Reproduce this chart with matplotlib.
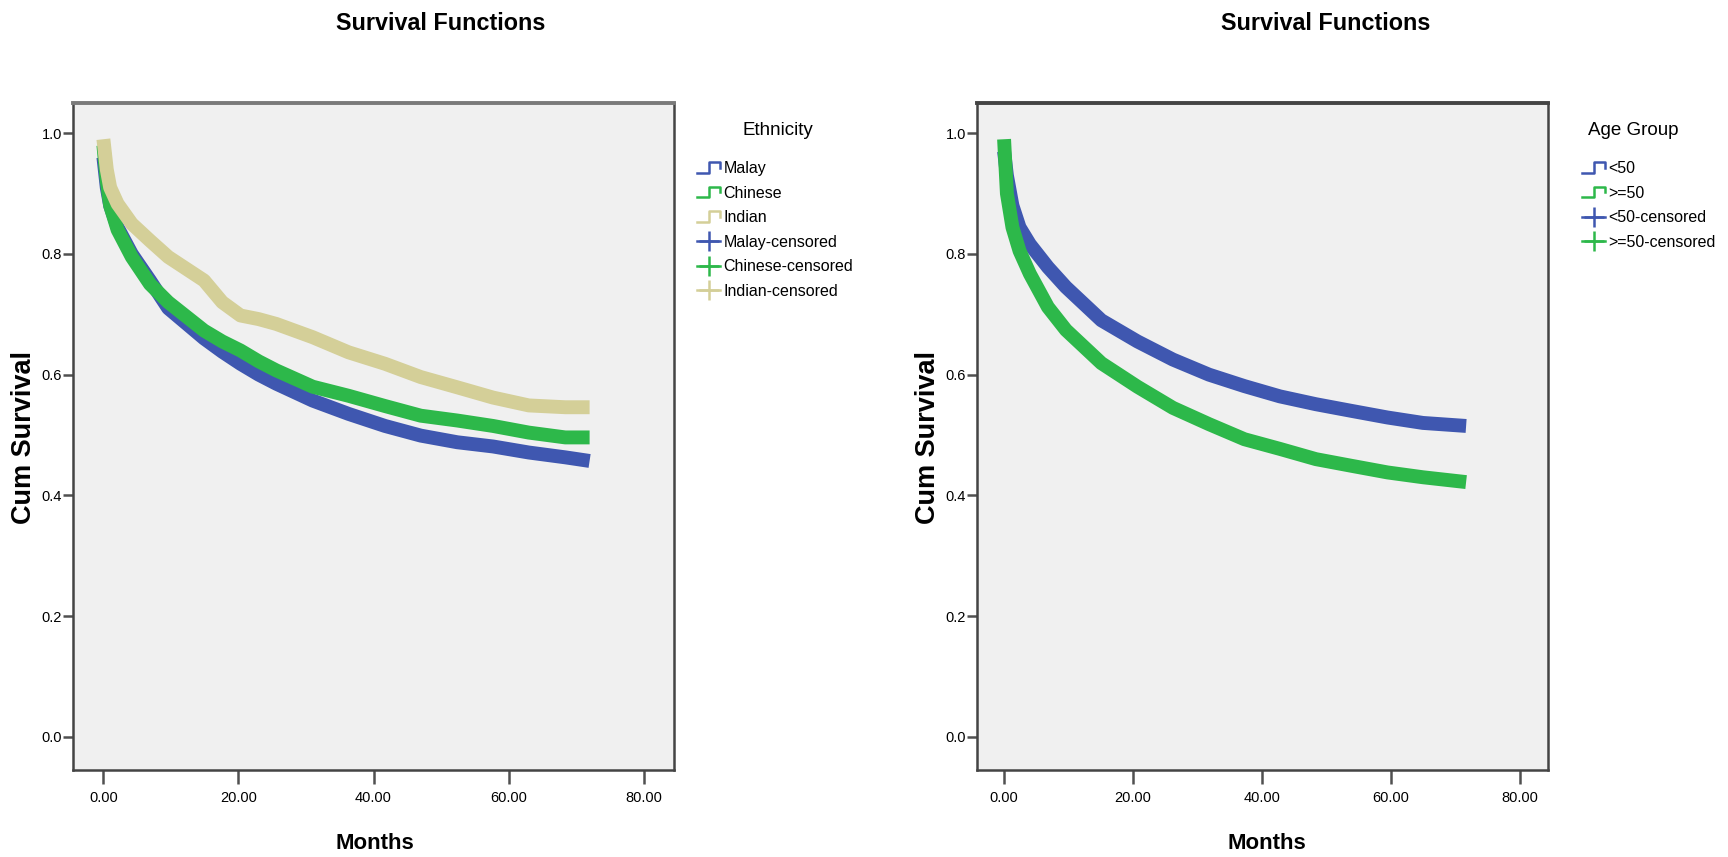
import matplotlib
matplotlib.use('Agg')
import matplotlib.pyplot as plt
from matplotlib.lines import Line2D
from matplotlib.legend_handler import HandlerLine2D

plt.rcParams['font.family'] = ['Liberation Sans', 'DejaVu Sans']

# Curvas (meses, supervivencia acumulada)
meses_etnia = [0, 0.5, 1, 2.1, 4.2, 6.9, 9.6, 14.9, 17.6, 20.3, 23, 25.6, 31, 36.3, 41.7, 47, 52.4, 57.7, 63, 68.4, 72]
malay = [0.96, 0.91, 0.88, 0.844, 0.80, 0.756, 0.71, 0.66, 0.638, 0.618, 0.60, 0.585, 0.557, 0.535, 0.515, 0.499, 0.488, 0.481, 0.471, 0.463, 0.457]
chinese = [0.98, 0.92, 0.88, 0.84, 0.795, 0.75, 0.72, 0.673, 0.655, 0.64, 0.622, 0.607, 0.58, 0.565, 0.548, 0.532, 0.524, 0.515, 0.504, 0.496, 0.496]
indian = [0.99, 0.94, 0.91, 0.883, 0.85, 0.822, 0.795, 0.756, 0.72, 0.698, 0.692, 0.684, 0.662, 0.637, 0.618, 0.596, 0.579, 0.562, 0.549, 0.546, 0.546]

meses_edad = [0, 0.44, 1.3, 2.4, 4, 6.8, 9.6, 15.1, 20.7, 26.2, 31.8, 37.3, 42.8, 48.4, 53.9, 59.5, 65, 71.7]
menor_50 = [0.97, 0.93, 0.88, 0.844, 0.816, 0.778, 0.745, 0.69, 0.655, 0.625, 0.60, 0.581, 0.564, 0.551, 0.54, 0.529, 0.52, 0.515]
mayor_50 = [0.99, 0.90, 0.844, 0.805, 0.767, 0.712, 0.674, 0.619, 0.58, 0.545, 0.518, 0.493, 0.477, 0.46, 0.449, 0.438, 0.43, 0.422]

etiquetas_etnia = ['Malay', 'Chinese', 'Indian']
etiquetas_edad = ['<50', '>=50']

ticks_x = [0, 20, 40, 60, 80]
ticks_y = [0, 0.2, 0.4, 0.6, 0.8, 1.0]

azul = '#3f57b0'
verde = '#2db84a'
beige = '#d4cf98'


class HandlerEscalon(HandlerLine2D):
    # dibuja el simbolo de escalon de SPSS en la leyenda
    def create_artists(self, legend, orig_handle, xdescent, ydescent, width, height, fontsize, trans):
        x0 = -xdescent
        y0 = -ydescent
        xs = [x0, x0 + width * 0.5, x0 + width * 0.5, x0 + width, x0 + width]
        ys = [y0 + height * 0.05, y0 + height * 0.05, y0 + height * 1.0, y0 + height * 1.0, y0 + height * 0.5]
        linea = Line2D(xs, ys, color=orig_handle.get_color(), lw=1.8, transform=trans)
        return [linea]


def estilo_ejes(ax, xlim, color_arriba):
    ax.set_facecolor('#f0f0f0')
    ax.set_xlim(*xlim)
    ax.set_ylim(-0.055, 1.05)
    ax.set_xticks(ticks_x)
    ax.set_xticklabels(['%.2f' % v for v in ticks_x], fontsize=10.5)
    ax.set_yticks(ticks_y)
    ax.set_yticklabels(['%.1f' % v for v in ticks_y], fontsize=10.5)
    ax.tick_params(axis='y', length=7, width=1.8, color='#505050', pad=1)
    ax.tick_params(axis='x', length=10, width=1.8, color='#505050', pad=5)
    for lado in ['left', 'right', 'bottom']:
        ax.spines[lado].set_color('#444444')
        ax.spines[lado].set_linewidth(1.8)
    ax.spines['top'].set_color(color_arriba)
    ax.spines['top'].set_linewidth(2.8)


def leyenda(fig, titulo, etiquetas, colores, x, y, x_titulo):
    handles = []
    mapa = {}
    for c in colores:
        h = Line2D([], [], color=c, lw=1.8)
        handles.append(h)
        mapa[h] = HandlerEscalon()
    for c in colores:
        handles.append(Line2D([], [], color=c, lw=1.8, marker='+', markersize=15, mew=1.8))
    nombres = list(etiquetas) + [e + '-censored' for e in etiquetas]
    fig.legend(handles, nombres, loc='upper left', bbox_to_anchor=(x, y),
               frameon=False, fontsize=11.5, handlelength=1.45,
               handletextpad=0.2, labelspacing=0.6, borderpad=0, borderaxespad=0,
               handler_map=mapa)
    fig.text(x_titulo, 0.848, titulo, ha='center', va='center', fontsize=13.5)


fig = plt.figure(figsize=(17.28, 8.57), dpi=100)

# Panel izquierdo: etnia
ax1 = fig.add_axes([0.04225, 0.1015, 0.3478, 0.7783])
ax1.plot(meses_etnia, malay, color=azul, lw=10, solid_capstyle='butt')
ax1.plot(meses_etnia, chinese, color=verde, lw=10, solid_capstyle='butt')
ax1.plot(meses_etnia, indian, color=beige, lw=10, solid_capstyle='butt')
estilo_ejes(ax1, (-4.5, 84.5), '#7a7a7a')

# Panel derecho: grupo de edad
ax2 = fig.add_axes([0.5654, 0.1015, 0.3304, 0.7783])
ax2.plot(meses_edad, menor_50, color=azul, lw=10, solid_capstyle='butt')
ax2.plot(meses_edad, mayor_50, color=verde, lw=10, solid_capstyle='butt')
estilo_ejes(ax2, (-4.2, 84.4), '#444444')

# Textos
for xt, xm, xc in [(0.255, 0.217, 0.014), (0.767, 0.733, 0.537)]:
    fig.text(xt, 0.972, 'Survival Functions', ha='center', va='center', fontsize=16.8, fontweight='bold')
    fig.text(xm, 0.016, 'Months', ha='center', va='center', fontsize=16, fontweight='bold')
    fig.text(xc, 0.49, 'Cum Survival', ha='center', va='center', rotation=90, fontsize=19.5, fontweight='bold')

leyenda(fig, 'Ethnicity', etiquetas_etnia, [azul, verde, beige], 0.4034, 0.812, 0.450)
leyenda(fig, 'Age Group', etiquetas_edad, [azul, verde], 0.9155, 0.812, 0.945)

fig.savefig('out.png', dpi=100)
